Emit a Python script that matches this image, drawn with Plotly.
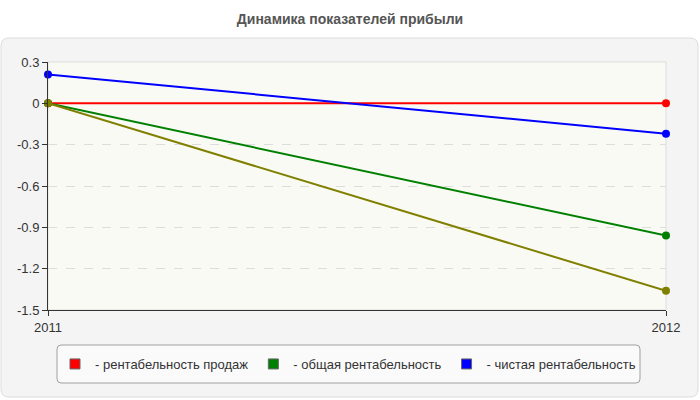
import plotly.graph_objects as go

years = [2011, 2012]
sales_prof = [0.0, 0.0]
total_prof = [0.0, -0.96]
net_prof = [0.21, -0.22]
other_prof = [0.0, -1.36]

y_ticks = [0.3, 0, -0.3, -0.6, -0.9, -1.2, -1.5]
y_labels = ["0.3", "0", "-0.3", "-0.6", "-0.9", "-1.2", "-1.5"]

W, H = 700, 400
L, R, T, B = 48, 34, 62, 90
pw, ph = W - L - R, H - T - B

def px(x):
    return (x - L) / pw

def py(y):
    return (H - B - y) / ph

def rrect(x0, y0, x1, y1, r):
    X0, X1 = px(x0), px(x1)
    Y0, Y1 = py(y0), py(y1)
    rx, ry = r / pw, r / ph
    return (f"M{X0+rx},{Y0} L{X1-rx},{Y0} Q{X1},{Y0} {X1},{Y0-ry} "
            f"L{X1},{Y1+ry} Q{X1},{Y1} {X1-rx},{Y1} L{X0+rx},{Y1} "
            f"Q{X0},{Y1} {X0},{Y1+ry} L{X0},{Y0-ry} Q{X0},{Y0} {X0+rx},{Y0} Z")

fig = go.Figure()

series = [
    (sales_prof, "#ff0000"),
    (total_prof, "#008000"),
    (net_prof, "#0000ff"),
    (other_prof, "#808000"),
]
for vals, col in series:
    fig.add_trace(go.Scatter(x=years, y=vals, mode="lines+markers",
                             line=dict(color=col, width=2),
                             marker=dict(color=col, size=8),
                             showlegend=False, cliponaxis=False, hoverinfo="skip"))

legend_items = [
    ("- рентабельность продаж", "#ff0000"),
    ("- общая рентабельность", "#008000"),
    ("- чистая рентабельность", "#0000ff"),
]
for name, col in legend_items:
    fig.add_trace(go.Scatter(x=[None], y=[None], mode="markers", name=name,
                             marker=dict(symbol="square", size=10, color=col,
                                         line=dict(color="#666", width=1))))

shapes = [
    dict(type="path", xref="paper", yref="paper", path=rrect(1, 38, 698, 397, 8),
         fillcolor="#f4f4f4", line=dict(color="#dddddd", width=1), layer="below"),
    dict(type="rect", xref="paper", yref="paper", x0=0, x1=1, y0=0, y1=1,
         fillcolor="#fafaf5", line=dict(color="#dddddd", width=1), layer="below"),
    dict(type="path", xref="paper", yref="paper", path=rrect(57, 345, 640, 383, 4),
         fillcolor="#fafafa", line=dict(color="#a0a0a0", width=1), layer="below"),
]

fig.update_layout(
    width=W, height=H,
    margin=dict(l=L, r=R, t=T, b=B),
    paper_bgcolor="#ffffff",
    plot_bgcolor="rgba(0,0,0,0)",
    font=dict(family="Liberation Sans, Arial, sans-serif", size=13, color="#333"),
    title=dict(text="<b>Динамика показателей прибыли</b>", x=0.5, xanchor="center",
               y=1 - 19 / H, yanchor="middle",
               font=dict(size=14, color="#555")),
    shapes=shapes,
    showlegend=True,
    legend=dict(orientation="h", x=px(55), xanchor="left", y=py(364), yanchor="middle",
                bgcolor="rgba(0,0,0,0)", borderwidth=0,
                font=dict(size=13, color="#333"), itemwidth=30,
                tracegroupgap=0),
    xaxis=dict(range=[2011, 2012], tickvals=years, ticktext=[str(y) for y in years],
               showgrid=False, zeroline=False, showline=True, linecolor="#333",
               linewidth=1, ticks="outside", ticklen=5, tickcolor="#333",
               tickfont=dict(size=13, color="#333")),
    yaxis=dict(range=[-1.5, 0.3], tickvals=y_ticks, ticktext=y_labels,
               showgrid=True, gridcolor="#dddddd", griddash="dash", gridwidth=1,
               zeroline=False, showline=True, linecolor="#333", linewidth=1,
               ticks="outside", ticklen=5, tickcolor="#333",
               tickfont=dict(size=13, color="#333")),
)

fig.write_html("out.html")
